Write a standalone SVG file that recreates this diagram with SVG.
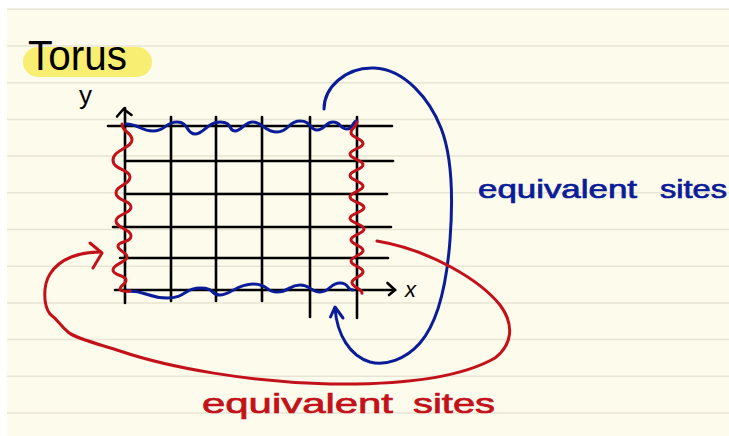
<svg xmlns="http://www.w3.org/2000/svg" width="729" height="436" viewBox="0 0 729 436">
  <style>
    .rule { stroke: #e8e5d4; stroke-width: 1.5; fill: none; }
    .grid { stroke: #000; stroke-width: 2.6; fill: none; stroke-linecap: round; }
    .blue { stroke: #0b1c98; stroke-width: 3; fill: none; stroke-linecap: round; stroke-linejoin: round; }
    .red { stroke: #c3111a; stroke-width: 3; fill: none; stroke-linecap: round; stroke-linejoin: round; }
    .hand { font-family: "Liberation Sans", "DejaVu Sans", sans-serif; }
  </style>
  <!-- paper -->
  <g id="paper">
    <rect x="0" y="0" width="729" height="436" fill="#ffffff"/>
    <rect x="7" y="9" width="722" height="427" fill="#fdfbec"/>
    <g class="rule">
      <line x1="7" y1="9.3" x2="729" y2="9.3"/>
      <line x1="7" y1="46" x2="729" y2="46"/>
      <line x1="7" y1="82.7" x2="729" y2="82.7"/>
      <line x1="7" y1="119.4" x2="729" y2="119.4"/>
      <line x1="7" y1="156.1" x2="729" y2="156.1"/>
      <line x1="7" y1="192.8" x2="729" y2="192.8"/>
      <line x1="7" y1="229.5" x2="729" y2="229.5"/>
      <line x1="7" y1="266.2" x2="729" y2="266.2"/>
      <line x1="7" y1="302.9" x2="729" y2="302.9"/>
      <line x1="7" y1="339.6" x2="729" y2="339.6"/>
      <line x1="7" y1="376.3" x2="729" y2="376.3"/>
      <line x1="7" y1="413" x2="729" y2="413"/>
    </g>
  </g>
  <!-- title -->
  <g id="title">
    <rect x="23" y="47" width="129" height="30" rx="15" fill="#f8ef72"/>
    <text class="hand" x="28" y="70" font-size="42" textLength="99" lengthAdjust="spacingAndGlyphs" fill="#000">Torus</text>
  </g>
  <!-- lattice -->
  <g id="lattice" class="grid">
    <line x1="125" y1="108" x2="125" y2="303"/>
    <line x1="171" y1="117" x2="171" y2="301"/>
    <line x1="216" y1="117" x2="216" y2="301"/>
    <line x1="262" y1="117" x2="262" y2="301"/>
    <line x1="310" y1="117" x2="310" y2="317"/>
    <line x1="357" y1="117" x2="357" y2="318"/>
    <line x1="108" y1="126" x2="392" y2="126"/>
    <line x1="125" y1="161" x2="393" y2="161"/>
    <line x1="125" y1="194" x2="387" y2="194"/>
    <line x1="113" y1="227" x2="391" y2="227"/>
    <line x1="120" y1="258" x2="388" y2="258"/>
    <line x1="115" y1="290" x2="395" y2="290"/>
    <polyline points="117,116.5 123.5,109 131.5,115"/>
    <polyline points="387.5,283 395,290 389,295"/>
  </g>
  <g id="axis-labels" class="hand" fill="#000">
    <text x="85.5" y="104" font-size="26" text-anchor="middle">y</text>
    <text x="410.5" y="297" font-size="22" text-anchor="middle" font-style="italic">x</text>
  </g>
  <!-- wavy boundaries -->
  <g id="boundary-top" class="blue">
    <path d="M126,124 C139,124 140,131 153,131 S165,122 177,122 S186,134 195,134 S207,122 220,122 S228,131 235,131 S244,122 253,122 S265,132 277,132 S288,121 300,121 S309,130 317,130 S325,122 333,122 S340,129 347,129 S352,121 357,121"/>
  </g>
  <g id="boundary-bottom" class="blue">
    <path d="M128,291 C147,291 148,298 167,298 S184,288 200,288 S210,295 220,295 S237,284 253,284 S265,292 277,292 S289,285 300,285 S310,292 320,292 S330,283 340,283 S346,290 353,290"/>
  </g>
  <g id="boundary-left" class="red">
    <path d="M122,124 C122,132 132,132 132,140 S113,150 113,160 S130,169 130,177 S116,185 116,193 S131,200 131,207 S116,214 116,221 S131,229 131,236 S118,241 118,246 S127,252 127,257 S113,264 113,270 S126,275 126,280 S120,285 120,289 Q121,292 130,291"/>
  </g>
  <g id="boundary-right" class="red">
    <path d="M357,122 C357,127 351,127.7 351,132.7 S363,138.4 363,143.4 S350,149.1 350,154.1 S363,159.8 363,164.8 S350,170.5 350,175.5 S363,181.2 363,186.2 S350,191.9 350,196.9 S364,202.6 364,207.6 S350,213.3 350,218.3 S364,224 364,229 S351,234.7 351,239.7 S363,245.4 363,250.4 S351,256.1 351,261.1 S363,266.8 363,271.8 S352,277.5 352,282.5 S362,288.2 362,293.2"/>
  </g>
  <!-- connectors -->
  <g id="connectors">
    <g id="blue-loop" class="blue">
      <path d="M324,109 C324,88 345,67 374,68 C405,69 430,100 441,128 C452,156 453,200 450,240 C447,280 440,320 420,343 C405,360 385,366 370,362 C350,356 337,335 335,308"/>
      <polyline points="330.5,317 335,307 343,318"/>
    </g>
    <g id="red-loop" class="red">
      <path d="M377,241 C430,250 480,280 500,305 C515,325 512,345 495,358 C460,378 400,385 330,384 C250,382 170,368 120,351 C95,343 75,338 68,332 C60,325 58,320 50,314 C43,305 43,285 50,274 C60,258 80,252 100,252"/>
      <polyline points="90,243 102,253 93,268"/>
    </g>
  </g>
  <!-- labels -->
  <g id="label-blue">
    <text class="hand" y="198" font-size="25" fill="#0b1c98" stroke="#0b1c98" stroke-width="0.7"><tspan x="478" textLength="159" lengthAdjust="spacingAndGlyphs">equivalent</tspan> <tspan x="660" textLength="67" lengthAdjust="spacingAndGlyphs">sites</tspan></text>
  </g>
  <g id="label-red">
    <text class="hand" y="413" font-size="28" fill="#c3111a" stroke="#c3111a" stroke-width="0.7"><tspan x="202" textLength="191" lengthAdjust="spacingAndGlyphs">equivalent</tspan> <tspan x="413" textLength="82" lengthAdjust="spacingAndGlyphs">sites</tspan></text>
  </g>
</svg>
